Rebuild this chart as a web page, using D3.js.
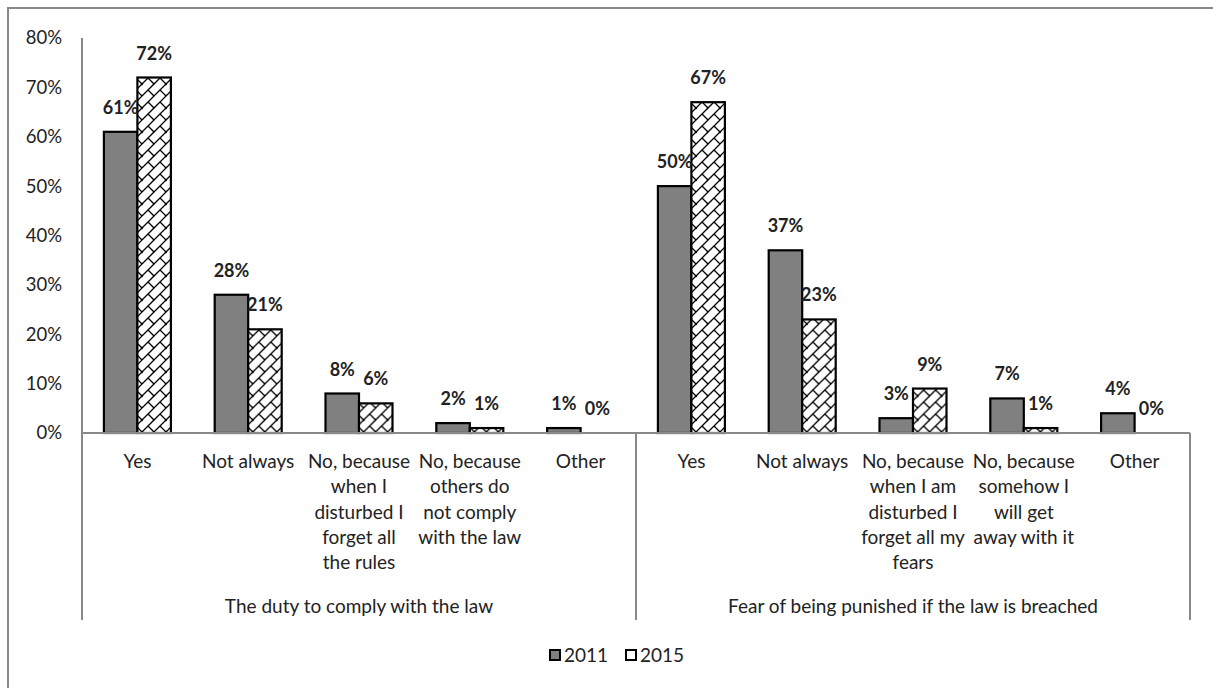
<!DOCTYPE html>
<html>
<head>
<meta charset="utf-8">
<script src="https://cdn.jsdelivr.net/npm/d3@7/dist/d3.min.js"></script>
<style>
  html, body { margin: 0; padding: 0; background: #fff; }
  svg { display: block; font-family: Lato, "Open Sans", sans-serif; }
</style>
</head>
<body>
<svg id="chart" width="1213" height="688"></svg>
<script>
// Survey answers, two question groups, two survey years
const groups = ["The duty to comply with the law", "Fear of being punished if the law is breached"];
const categoryLines = [
  ["Yes"],
  ["Not always"],
  ["No, because", "when I", "disturbed I", "forget all", "the rules"],
  ["No, because", "others do", "not comply", "with the law"],
  ["Other"],
  ["Yes"],
  ["Not always"],
  ["No, because", "when I am", "disturbed I", "forget all my", "fears"],
  ["No, because", "somehow I", "will get", "away with it"],
  ["Other"]
];
const categoryGroup = [0, 0, 0, 0, 0, 1, 1, 1, 1, 1];
const seriesNames = ["2011", "2015"];
const values2011 = [61, 28, 8, 2, 1, 50, 37, 3, 7, 4];
const values2015 = [72, 21, 6, 1, 0, 67, 23, 9, 1, 0];
const yTicks = [0, 10, 20, 30, 40, 50, 60, 70, 80];

const svg = d3.select("#chart");
const axisColor = "#898989";
const textColor = "#222";

const plotLeft = 82, plotRight = 1190, plotTop = 38, baseY = 433, bottomY = 620;

// diagonal-brick fill for the 2015 series
const h = 12, T = 2 * h;
const defs = svg.append("defs");
const pat = defs.append("pattern")
  .attr("id", "brick")
  .attr("patternUnits", "userSpaceOnUse")
  .attr("width", T).attr("height", T);
pat.append("rect").attr("width", T).attr("height", T).attr("fill", "#fff");
// rising diagonals x + y = k*h
let dPath = "";
for (let k = 0; k <= 4; k++) {
  const s = k * h;
  dPath += `M${s + 1},-1 L-1,${s + 1} `;
}
// staggered connectors between neighbouring diagonals
const conns = [[h / 2, h / 2], [h + h / 2, h / 2], [h / 2, h + h / 2], [h + h / 2, h + h / 2]];
conns.forEach(([cx, cy]) => { dPath += `M${cx},${cy} L${cx + h / 2},${cy + h / 2} `; });
pat.append("path").attr("d", dPath)
  .attr("stroke", "#000").attr("stroke-width", 1.3).attr("fill", "none");
conns.forEach(([cx, cy]) => {
  pat.append("circle").attr("cx", cx + h / 2).attr("cy", cy + h / 2).attr("r", 1.2).attr("fill", "#000");
});

// outer frame
svg.append("rect")
  .attr("x", 8).attr("y", 8).attr("width", 1240).attr("height", 720)
  .attr("fill", "none").attr("stroke", axisColor).attr("stroke-width", 2);

const x0 = d3.scaleBand().domain(d3.range(categoryLines.length)).range([plotLeft, plotRight]).padding(0);
const x1 = d3.scaleBand().domain(seriesNames).range([0, x0.bandwidth()]).paddingOuter(0.654).paddingInner(0);
const y = d3.scaleLinear().domain([0, 80]).range([baseY, plotTop]);

// y axis labels
const yAxis = d3.axisLeft(y).tickValues(yTicks).tickFormat(d => d + "%").tickSize(0).tickPadding(20);
const yg = svg.append("g").attr("transform", `translate(${plotLeft},0)`).call(yAxis);
yg.select(".domain").remove();
yg.selectAll("text").attr("font-size", 18.5).attr("fill", textColor).attr("font-family", "Lato, sans-serif");

// bars
const rows = categoryLines.map((c, i) => ({ i, v: [values2011[i], values2015[i]] }));
const cat = svg.append("g").selectAll("g").data(rows).join("g")
  .attr("transform", d => `translate(${x0(d.i)},0)`);

cat.selectAll("rect").data(d => d.v.map((v, k) => ({ v, k }))).join("rect")
  .attr("x", d => x1(seriesNames[d.k]))
  .attr("y", d => y(d.v))
  .attr("width", x1.bandwidth())
  .attr("height", d => baseY - y(d.v))
  .attr("fill", d => d.k === 0 ? "#808080" : "url(#brick)")
  .attr("stroke", "#000").attr("stroke-width", 2.2);

cat.selectAll("text").data(d => d.v.map((v, k) => ({ v, k }))).join("text")
  .attr("x", d => x1(seriesNames[d.k]) + x1.bandwidth() / 2)
  .attr("y", d => y(d.v) - 18)
  .attr("text-anchor", "middle")
  .attr("font-size", 18).attr("font-weight", "bold").attr("fill", textColor)
  .text(d => d.v + "%");

// axis lines
const axes = svg.append("g").attr("stroke", axisColor).attr("stroke-width", 2).attr("fill", "none");
axes.append("line").attr("x1", plotLeft).attr("x2", plotLeft).attr("y1", plotTop).attr("y2", bottomY);
axes.append("line").attr("x1", plotLeft).attr("x2", plotRight).attr("y1", baseY).attr("y2", baseY);
const groupEdges = [5, 10];
groupEdges.forEach(e => {
  const xe = e < categoryLines.length ? x0(e) : plotRight;
  axes.append("line").attr("x1", xe).attr("x2", xe).attr("y1", baseY).attr("y2", bottomY);
});

// category labels
const lab = svg.append("g").attr("font-size", 19).attr("fill", textColor).attr("text-anchor", "middle");
categoryLines.forEach((lines, i) => {
  const cx = x0(i) + x0.bandwidth() / 2;
  const t = lab.append("text").attr("x", cx).attr("y", 468);
  lines.forEach((ln, j) => t.append("tspan").attr("x", cx).attr("dy", j === 0 ? 0 : 25.3).text(ln));
});

// group labels
groups.forEach((g, gi) => {
  const idx = categoryGroup.map((c, i) => c === gi ? i : -1).filter(i => i >= 0);
  const gx = (x0(idx[0]) + x0(idx[idx.length - 1]) + x0.bandwidth()) / 2;
  lab.append("text").attr("x", gx).attr("y", 613).text(g);
});

// legend
const legend = svg.append("g").attr("font-size", 19).attr("fill", textColor);
const legendX = [550, 626];
seriesNames.forEach((s, k) => {
  legend.append("rect").attr("x", legendX[k]).attr("y", 650).attr("width", 10).attr("height", 10)
    .attr("fill", k === 0 ? "#808080" : "#fff").attr("stroke", "#000").attr("stroke-width", 2);
  legend.append("text").attr("x", legendX[k] + 14).attr("y", 662).text(s);
});
</script>
</body>
</html>
